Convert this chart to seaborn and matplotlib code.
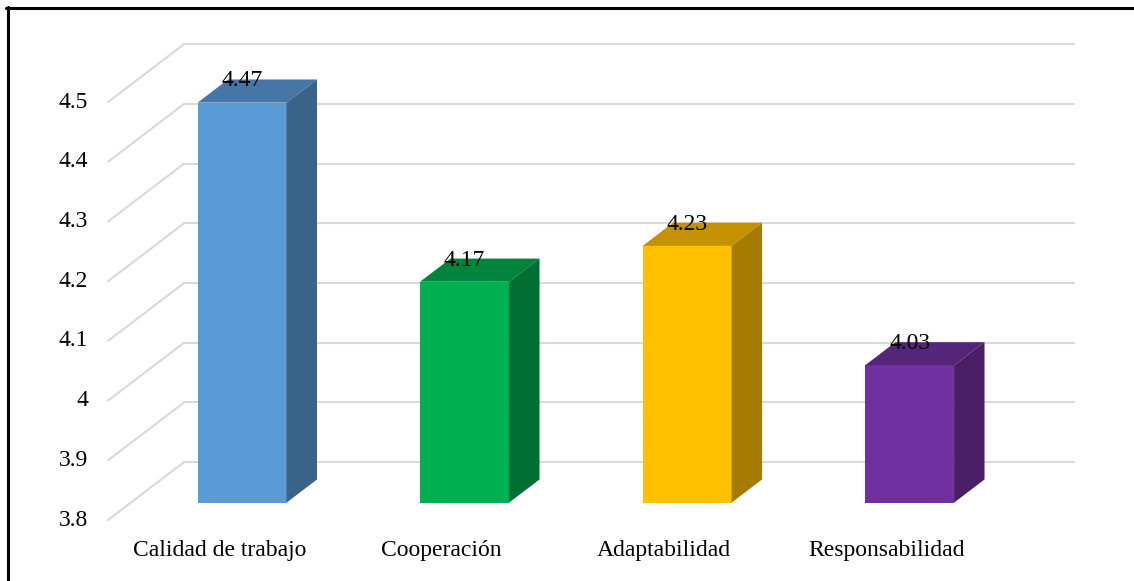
import matplotlib
matplotlib.use("Agg")
import matplotlib.pyplot as plt
from matplotlib.patches import Polygon
from matplotlib.lines import Line2D
import seaborn as sns
import pandas as pd

# Data
categories = ["Calidad de trabajo", "Cooperación", "Adaptabilidad", "Responsabilidad"]
values = [4.47, 4.17, 4.23, 4.03]
y_ticks = [3.8, 3.9, 4.0, 4.1, 4.2, 4.3, 4.4, 4.5]
y_tick_labels = ["3.8", "3.9", "4", "4.1", "4.2", "4.3", "4.4", "4.5"]

front_colors = ["#5B9BD5", "#00B050", "#FFC000", "#7030A0"]
top_colors = ["#4676A6", "#00843C", "#C49200", "#55257A"]
side_colors = ["#3A6387", "#006F31", "#A67C00", "#4A1E66"]

BASE = 3.8
# oblique projection of the depth axis (data units per full depth)
DX, DY = 0.342, 0.097
D0, D1 = 0.3, 0.7  # bar depth extent
BAR_W = 0.4

sns.set_theme(style="white")
plt.rcParams["font.family"] = ["Liberation Serif", "DejaVu Serif"]

W, H = 1134, 581
fig = plt.figure(figsize=(W / 100, H / 100), dpi=100)
ax = fig.add_axes([0, 0, 1, 1])
px_per_x = 222.5
px_per_y = 597.0
ax.set_xlim(-0.5 - 108 / px_per_x, -0.5 + (W - 108) / px_per_x)
ax.set_ylim(BASE - (H - 520) / px_per_y, BASE + 520 / px_per_y)
ax.axis("off")

grid_c = "#D9D9D9"
n = len(categories)
for v in y_ticks:
    # back wall gridline
    ax.add_line(Line2D([-0.5 + DX, n - 0.5 + DX], [v + DY, v + DY],
                       color=grid_c, lw=1.5, zorder=1))
    # side wall diagonal
    ax.add_line(Line2D([-0.5, -0.5 + DX], [v, v + DY],
                       color=grid_c, lw=1.5, zorder=1))

df = pd.DataFrame({"cat": categories, "val": values})
sns.barplot(data=df, x="cat", y="val", hue="cat", palette=front_colors,
            width=BAR_W, legend=False, ax=ax, linewidth=0, saturation=1, zorder=3)
ax.set_xlim(-0.5 - 108 / px_per_x, -0.5 + (W - 108) / px_per_x)
ax.set_ylim(BASE - (H - 520) / px_per_y, BASE + 520 / px_per_y)
ax.axis("off")

patches = sorted(ax.patches, key=lambda p: p.get_x())
for i, (p, v) in enumerate(zip(patches, values)):
    x0 = p.get_x() + D0 * DX
    p.set_x(x0)
    p.set_y(BASE + D0 * DY)
    p.set_height(v - BASE)
    p.set_zorder(3)
    x1 = x0 + BAR_W
    ddx = (D1 - D0) * DX
    ddy = (D1 - D0) * DY
    yb = BASE + D0 * DY
    yt = v + D0 * DY
    top = Polygon([[x0, yt], [x1, yt], [x1 + ddx, yt + ddy], [x0 + ddx, yt + ddy]],
                  closed=True, facecolor=top_colors[i], edgecolor="none", zorder=3)
    side = Polygon([[x1, yb], [x1 + ddx, yb + ddy], [x1 + ddx, yt + ddy], [x1, yt]],
                   closed=True, facecolor=side_colors[i], edgecolor="none", zorder=3)
    ax.add_patch(top)
    ax.add_patch(side)
    ax.text(x0 + BAR_W / 2, v + D1 * DY - 7 / px_per_y, f"{v:.2f}",
            ha="center", va="baseline", fontsize=17, color="black", zorder=5)

# axis labels
for v, lab in zip(y_ticks, y_tick_labels):
    ax.text(-0.5 - 20 / px_per_x, v, lab, ha="right", va="center",
            fontsize=17, color="black")
for i, c in enumerate(categories):
    ax.text(i, BASE - 36 / px_per_y, c, ha="center", va="baseline",
            fontsize=17, color="black")

# frame lines
fig.add_artist(Line2D([6 / W, 1], [1 - 8 / H, 1 - 8 / H], color="black", lw=2.2,
                      transform=fig.transFigure))
fig.add_artist(Line2D([7.5 / W, 7.5 / W], [0, 1 - 6.5 / H], color="black", lw=2.2,
                      transform=fig.transFigure))

fig.savefig("out.png", dpi=100)
